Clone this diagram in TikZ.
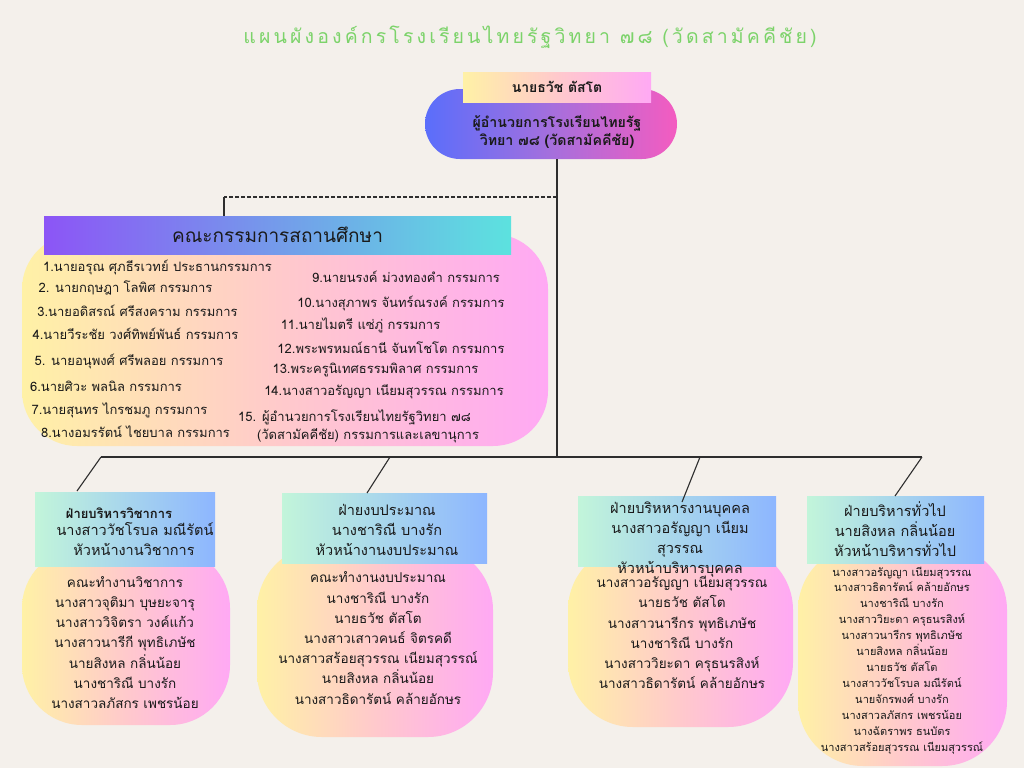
\documentclass[tikz,border=0pt]{standalone}
\usepackage{fontspec}
\newfontfamily\thai[Script=Thai]{Loma}
\newfontfamily\thaititle[Script=Thai,LetterSpace=16]{Loma}
\usetikzlibrary{shapes.misc}
\definecolor{bgc}{HTML}{F4F0EB}
\definecolor{titlec}{HTML}{7CD36A}
\definecolor{linec}{HTML}{2E2E2E}
\definecolor{txtc}{HTML}{1A1A1A}
\definecolor{yel}{HTML}{FFF1A6}
\definecolor{peach}{HTML}{FFC9CC}
\definecolor{pinkb}{HTML}{FFA9F4}
\definecolor{pillL}{HTML}{5A6EFB}
\definecolor{pillM}{HTML}{A56FDD}
\definecolor{pillR}{HTML}{F45CC0}
\definecolor{purp}{HTML}{8C55F6}
\definecolor{cyanc}{HTML}{5CE2DF}
\definecolor{mint}{HTML}{C2F5DA}
\definecolor{blueh}{HTML}{8DB6FF}
\tikzset{
  conn/.style={draw=linec, line width=1.1pt},
  txt/.style={font=\thai\fontsize{13}{15}\selectfont, text=txtc, inner sep=0pt},
  btxt/.style={font=\thai\bfseries\fontsize{13}{15}\selectfont, text=txtc, inner sep=0pt},
  htxt/.style={font=\thai\fontsize{14.5}{20}\selectfont, text=txtc, inner sep=0pt},
  bodytxt/.style={font=\thai\fontsize{13.5}{20.2}\selectfont, text=txtc, inner sep=0pt, align=center},
  smalltxt/.style={font=\thai\fontsize{11}{15.95}\selectfont, text=txtc, inner sep=0pt, align=center},
  bodyshape/.style={draw=none, rectangle, left color=yel, right color=pinkb, middle color=peach, inner sep=0pt},
  headbox/.style={draw=none, rectangle, left color=mint, right color=blueh, inner sep=0pt},
}
\begin{document}
\begin{tikzpicture}[x=1pt,y=-1pt]
\useasboundingbox[fill=bgc] (0,0) rectangle (1024,768);

% title
\node[font=\thaititle\fontsize{19.5}{24}\selectfont, text=titlec, inner sep=0pt] (title) at (530,37) {แผนผังองค์กรโรงเรียนไทยรัฐวิทยา ๗๘ (วัดสามัคคีชัย)};

% director
\node[rounded rectangle, draw=none, minimum width=252pt, minimum height=70pt, left color=pillL, right color=pillR, middle color=pillM, inner sep=0pt] (dir) at (551,124) {};
\node[rectangle, draw=none, minimum width=188pt, minimum height=30pt, left color=yel, right color=pinkb, middle color=peach, inner sep=0pt, font=\thai\bfseries\fontsize{14}{16}\selectfont, text=txtc] (dirname) at (557,87) {นายธวัช  ตัสโต};
\node[inner sep=0pt, text=txtc, align=center, font=\thai\bfseries\fontsize{14.2}{18.5}\selectfont] (dirtext) at (557,132) {ผู้อำนวยการโรงเรียนไทยรัฐ\\วิทยา ๗๘ (วัดสามัคคีชัย)};

% committee
\node[bodyshape, rounded corners=55pt, minimum width=526pt, minimum height=212pt] (combody) at (285,340) {};
\node[rectangle, draw=none, left color=purp, right color=cyanc, minimum width=467pt, minimum height=38pt, inner sep=0pt, font=\thai\fontsize{19}{22}\selectfont, text=txtc] (comhead) at (277.5,235) {คณะกรรมการสถานศึกษา};

\node[txt] (c1) at (157.5,267) {1.นายอรุณ ศุภธีรเวทย์  ประธานกรรมการ};
\node[txt] (c2) at (125.5,288) {2. นายกฤษฎา โลพิศ กรรมการ};
\node[txt] (c3) at (137.5,311) {3.นายอดิสรณ์ ศรีสงคราม  กรรมการ};
\node[txt] (c4) at (135.5,334) {4.นายวีระชัย วงศ์ทิพย์พันธ์ กรรมการ};
\node[txt] (c5) at (129,361) {5. นายอนุพงศ์ ศรีพลอย  กรรมการ};
\node[txt] (c6) at (106,386) {6.นายศิวะ พลนิล กรรมการ};
\node[txt] (c7) at (119.5,410) {7.นายสุนทร ไกรชมภู กรรมการ};
\node[txt] (c8) at (135.5,432) {8.นางอมรรัตน์ ไชยบาล กรรมการ};
\node[txt] (c9) at (406,277) {9.นายนรงค์ ม่วงทองคำ  กรรมการ};
\node[txt] (c10) at (401,303) {10.นางสุภาพร จันทร์ณรงค์ กรรมการ};
\node[txt] (c11) at (360.5,325) {11.นายไมตรี แซ่ภู่ กรรมการ};
\node[txt] (c12) at (391,348) {12.พระพรหมณ์ธานี จันทโชโต กรรมการ};
\node[txt] (c13) at (375.5,370) {13.พระครูนิเทศธรรมพิลาศ    กรรมการ};
\node[txt] (c14) at (384,392) {14.นางสาวอรัญญา เนียมสุวรรณ กรรมการ};
\node[txt] (c15a) at (354.5,417) {15. ผู้อำนวยการโรงเรียนไทยรัฐวิทยา ๗๘};
\node[txt] (c15b) at (368,436) {(วัดสามัคคีชัย)  กรรมการและเลขานุการ};

% bottom bodies
\node[bodyshape, rounded corners=60pt, minimum width=208pt, minimum height=177pt] (body1) at (126,636.5) {};
\node[bodyshape, rounded corners=65pt, minimum width=236pt, minimum height=192pt] (body2) at (375,641) {};
\node[bodyshape, rounded corners=65pt, minimum width=225pt, minimum height=182pt] (body3) at (680.5,636) {};
\node[bodyshape, rounded corners=65pt, minimum width=209pt, minimum height=221pt] (body4) at (902.5,655.5) {};

% bottom headers
\node[headbox, minimum width=180pt, minimum height=74pt] (head1) at (125,529) {};
\node[headbox, minimum width=205pt, minimum height=70pt] (head2) at (384.5,528) {};
\node[headbox, minimum width=198pt, minimum height=70pt] (head3) at (677,531) {};
\node[headbox, minimum width=177pt, minimum height=67pt] (head4) at (895.5,529.5) {};

% header texts
\node[btxt] (h1a) at (119,513) {ฝ่ายบริหารวิชาการ};
\node[htxt] (h1b) at (135,529) {นางสาววัชโรบล มณีรัตน์};
\node[htxt] (h1c) at (134,549) {หัวหน้างานวิชาการ};
\node[htxt, align=center] (h2t) at (387,529.5) {ฝ่ายงบประมาณ\\นางชาริณี บางรัก\\หัวหน้างานงบประมาณ};
\node[htxt, align=center] (h3t) at (680,540) {ฝ่ายบริหหารงานบุคคล\\นางสาวอรัญญา เนียม\\สุวรรณ\\หัวหน้าบริหารบุคคล};
\node[htxt, align=center] (h4t) at (895,529.5) {ฝ่ายบริหารทั่วไป\\นายสิงหล  กลิ่นน้อย\\หัวหน้าบริหารทั่วไป};

% body texts
\node[bodytxt] (b1t) at (125,642.5) {คณะทำงานวิชาการ\\นางสาวจุติมา บุษยะจารุ\\นางสาววิจิตรา วงค์แก้ว\\นางสาวนารีกี พุทธิเภษัช\\นายสิงหล กลิ่นน้อย\\นางชาริณี บางรัก\\นางสาวลภัสกร เพชรน้อย};
\node[bodytxt] (b2t) at (378,638) {คณะทำงานงบประมาณ\\นางชาริณี บางรัก\\นายธวัช ตัสโต\\นางสาวเสาวคนธ์ จิตรคดี\\นางสาวสร้อยสุวรรณ เนียมสุวรรณ์\\นายสิงหล กลิ่นน้อย\\นางสาวธิดารัตน์ คล้ายอักษร};
\node[bodytxt] (b3t) at (682,632.5) {นางสาวอรัญญา เนียมสุวรรณ\\นายธวัช ตัสโต\\นางสาวนารีกร พุทธิเภษัช\\นางชาริณี บางรัก\\นางสาววิยะดา ครุธนรสิงห์\\นางสาวธิดารัตน์ คล้ายอักษร};
\node[smalltxt] (b4t) at (902,660.5) {นางสาวอรัญญา เนียมสุวรรณ\\นางสาวธิดารัตน์ คล้ายอักษร\\นางชาริณี บางรัก\\นางสาววิยะดา ครุธนรสิงห์\\นางสาวนารีกร พุทธิเภษัช\\นายสิงหล กลิ่นน้อย\\นายธวัช ตัสโต\\นางสาววัชโรบล มณีรัตน์\\นายจักรพงศ์ บางรัก\\นางสาวลภัสกร เพชรน้อย\\นางฉัตราพร ธนบัตร\\นางสาวสร้อยสุวรรณ เนียมสุวรรณ์};

% connectors
\coordinate (jtop) at (557,197);
\coordinate (jl) at (224,197);
\coordinate (jmid) at (557,457);
\coordinate (hl) at (101,457);
\coordinate (a2) at (390,457);
\coordinate (a3) at (700,457);
\coordinate (hr) at (922,457);
\coordinate (t1) at (77,491);
\coordinate (t2) at (367,493);
\coordinate (t3) at (682,502);
\coordinate (t4) at (895,496);
\draw[conn] (jtop |- dir.south) -- (jmid);
\draw[conn, dash pattern=on 4pt off 2pt] (jtop) -- (jl);
\draw[conn] (jl) -- (jl |- comhead.north);
\draw[conn] (hl) -- (hr);
\draw[conn] (hl) -- (t1);
\draw[conn] (a2) -- (t2);
\draw[conn] (a3) -- (t3);
\draw[conn] (hr) -- (t4);
\end{tikzpicture}
\end{document}
